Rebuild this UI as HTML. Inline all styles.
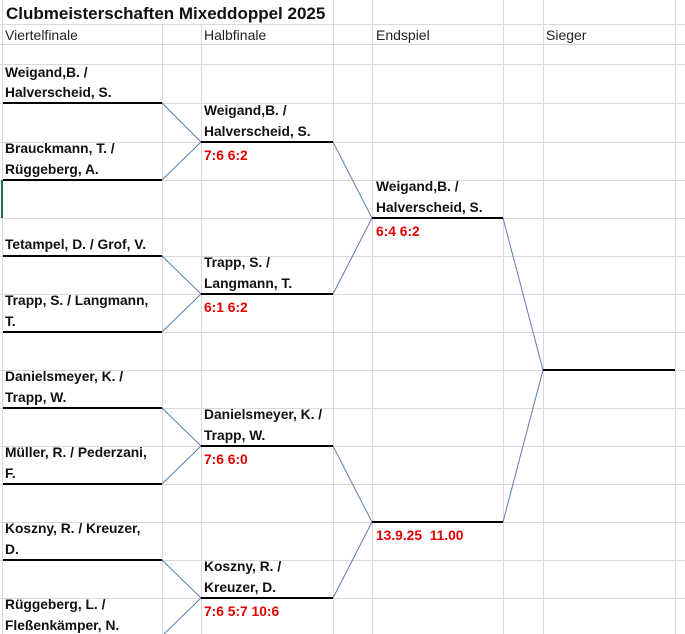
<!DOCTYPE html>
<html><head><meta charset="utf-8"><style>
html,body{margin:0;padding:0;background:#fff;}
svg{display:block;}
.t{font-family:"Liberation Sans",Arial,sans-serif;font-weight:bold;font-size:13.8px;fill:#111;}
.h{font-family:"Liberation Sans",Arial,sans-serif;font-size:14px;fill:#222;}
.r{font-family:"Liberation Sans",Arial,sans-serif;font-weight:bold;font-size:13.8px;fill:#e00000;}
</style></head><body>
<svg width="685" height="634" viewBox="0 0 685 634" xmlns="http://www.w3.org/2000/svg">
<g stroke="#d9d9d9" stroke-width="1">
<line x1="0" y1="24.5" x2="685" y2="24.5"/><line x1="0" y1="44.5" x2="685" y2="44.5"/>
<line x1="0" y1="64.5" x2="685" y2="64.5"/><line x1="0" y1="103.5" x2="685" y2="103.5"/>
<line x1="0" y1="142.5" x2="685" y2="142.5"/><line x1="0" y1="180.5" x2="685" y2="180.5"/>
<line x1="0" y1="218.5" x2="685" y2="218.5"/><line x1="0" y1="256.5" x2="685" y2="256.5"/>
<line x1="0" y1="294.5" x2="685" y2="294.5"/><line x1="0" y1="332.5" x2="685" y2="332.5"/>
<line x1="0" y1="370.5" x2="685" y2="370.5"/><line x1="0" y1="408.5" x2="685" y2="408.5"/>
<line x1="0" y1="446.5" x2="685" y2="446.5"/><line x1="0" y1="484.5" x2="685" y2="484.5"/>
<line x1="0" y1="522.5" x2="685" y2="522.5"/><line x1="0" y1="560.5" x2="685" y2="560.5"/>
<line x1="0" y1="598.5" x2="685" y2="598.5"/>
<line x1="2.5" y1="0" x2="2.5" y2="634"/><line x1="162.5" y1="0" x2="162.5" y2="634"/>
<line x1="201.5" y1="0" x2="201.5" y2="634"/><line x1="333.5" y1="0" x2="333.5" y2="634"/>
<line x1="372.5" y1="0" x2="372.5" y2="634"/><line x1="503.5" y1="0" x2="503.5" y2="634"/>
<line x1="543.5" y1="0" x2="543.5" y2="634"/><line x1="675.5" y1="0" x2="675.5" y2="634"/>
</g>
<rect x="3" y="0" width="330" height="24" fill="#fff"/>
<text x="6" y="19" font-family="Liberation Sans,Arial,sans-serif" font-weight="bold" font-size="17" fill="#111">Clubmeisterschaften Mixeddoppel 2025</text>
<text class="h" x="5" y="40">Viertelfinale</text>
<text class="h" x="204" y="40">Halbfinale</text>
<text class="h" x="376" y="40">Endspiel</text>
<text class="h" x="546" y="40">Sieger</text>
<line x1="2" y1="180" x2="2" y2="218" stroke="#217346" stroke-width="2"/>
<g stroke="#5b7fad" stroke-width="1" fill="none">
<path d="M162 103 L201 142 L162 180"/>
<path d="M162 256 L201 294 L162 332"/>
<path d="M162 408 L201 446 L162 484"/>
<path d="M162 560 L201 598 L162 636"/>
<path d="M333 142 L372 218 L333 294"/>
<path d="M333 446 L372 522 L333 598"/>
<path d="M503 218 L543 370 L503 522"/>
</g>
<g stroke="#000" stroke-width="2">
<line x1="3" y1="103" x2="162" y2="103"/><line x1="3" y1="180" x2="162" y2="180"/>
<line x1="3" y1="256" x2="162" y2="256"/><line x1="3" y1="332" x2="162" y2="332"/>
<line x1="3" y1="408" x2="162" y2="408"/><line x1="3" y1="484" x2="162" y2="484"/>
<line x1="3" y1="560" x2="162" y2="560"/>
<line x1="201" y1="142" x2="333" y2="142"/><line x1="201" y1="294" x2="333" y2="294"/>
<line x1="201" y1="446" x2="333" y2="446"/><line x1="201" y1="598" x2="333" y2="598"/>
<line x1="372" y1="218" x2="503" y2="218"/><line x1="372" y1="522" x2="503" y2="522"/>
<line x1="543" y1="370" x2="675" y2="370"/>
</g>
<text class="t" x="5" y="77">Weigand,B. /</text><text class="t" x="5" y="97">Halverscheid, S.</text>
<text class="t" x="5" y="153">Brauckmann, T. /</text><text class="t" x="5" y="174">Rüggeberg, A.</text>
<text class="t" x="5" y="249">Tetampel, D. / Grof, V.</text>
<text class="t" x="5" y="305">Trapp, S. / Langmann,</text><text class="t" x="5" y="326">T.</text>
<text class="t" x="5" y="381">Danielsmeyer, K. /</text><text class="t" x="5" y="402">Trapp, W.</text>
<text class="t" x="5" y="457">Müller, R. / Pederzani,</text><text class="t" x="5" y="478">F.</text>
<text class="t" x="5" y="533">Koszny, R. / Kreuzer,</text><text class="t" x="5" y="554">D.</text>
<text class="t" x="5" y="609">Rüggeberg, L. /</text><text class="t" x="5" y="630">Fleßenkämper, N.</text>
<text class="t" x="204" y="115">Weigand,B. /</text><text class="t" x="204" y="136">Halverscheid, S.</text>
<text class="t" x="204" y="267">Trapp, S. /</text><text class="t" x="204" y="288">Langmann, T.</text>
<text class="t" x="204" y="419">Danielsmeyer, K. /</text><text class="t" x="204" y="440">Trapp, W.</text>
<text class="t" x="204" y="571">Koszny, R. /</text><text class="t" x="204" y="592">Kreuzer, D.</text>
<text class="t" x="376" y="191">Weigand,B. /</text><text class="t" x="376" y="212">Halverscheid, S.</text>
<text class="r" x="204" y="160">7:6 6:2</text>
<text class="r" x="204" y="312">6:1 6:2</text>
<text class="r" x="204" y="464">7:6 6:0</text>
<text class="r" x="204" y="616">7:6 5:7 10:6</text>
<text class="r" x="376" y="236">6:4 6:2</text>
<text class="r" x="376" y="540" xml:space="preserve">13.9.25  11.00</text>
</svg>
</body></html>
